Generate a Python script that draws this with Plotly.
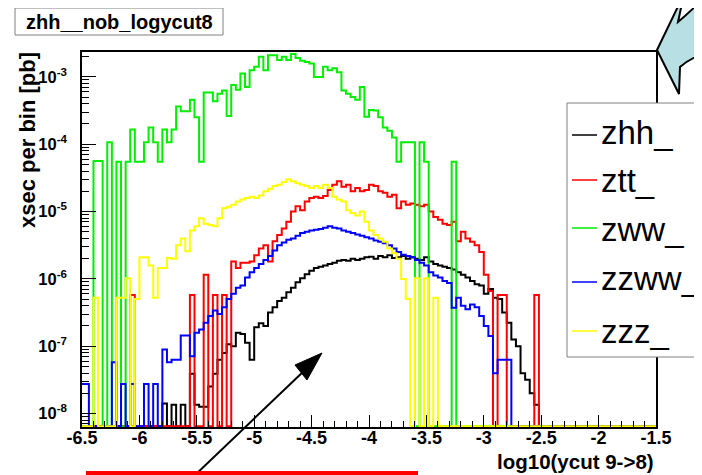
import plotly.graph_objects as go

N = None
# ---------------- data (log10 of xsec per bin [pb]; None = empty bin) ----------------
BIN_WIDTH = 0.04
X_FIRST_EDGE = -6.52
N_BINS = 126

zhh_first_center = -5.78
zhh_log = [-7.85, N, -7.87, N, -7.87, N, -7.41, -7.87, -7.9, -7.9, -7.6, -7.41, -7.2, -7.1,
           -6.97, -7.0, -6.8, -6.82, -6.95, -7.2, -6.72, -6.66, -6.7, -6.5, -6.42, -6.33, -6.28,
           -6.2, -6.13, -6.05, -5.99, -5.93, -5.88, -5.84, -5.82, -5.8, -5.78, -5.76, -5.73, -5.72,
           -5.73, -5.7, -5.72, -5.7, -5.68, -5.67, -5.7, -5.66, -5.68, -5.65, -5.69, -5.68, -5.66,
           -5.7, -5.68, -5.7, -5.72, -5.68, -5.74, -5.78, -5.8, -5.82, -5.84, -5.86, -5.9, -5.94,
           -5.98, -6.03, -6.08, -6.1, -6.22, -6.15, -6.28, -6.3, -6.5, -6.65, -6.9, -7.0, -7.4,
           -7.5, -7.7, -7.87]

ztt_first_center = -6.06
ztt_log = [-6.24, N, N, N, N, N, N, N, N, N, N, N, N, -6.24, N, N, -5.94, N, -6.24, N, -6.24, N,
           -5.74, -5.84, -5.76, -5.76, -5.74, -5.65, -5.55, -5.5, -5.74, -5.44, -5.35, -5.25,
           -5.15, -5.0, -4.92, -4.98, -4.85, -4.8, -4.78, -4.8, -4.77, -4.68, -4.6, -4.55, -4.63,
           -4.6, -4.7, -4.65, -4.7, -4.68, -4.6, -4.62, -4.7, -4.72, -4.78, -4.75, -4.95, -4.85,
           -4.9, -4.88, -4.9, -4.92, -4.9, -5.0, -5.08, -5.12, -5.18, -5.2, -5.15, -5.44, -5.3,
           -5.4, -5.45, -5.5, -5.6, -5.94, -6.18, N, -6.24, -6.24, N, N, N, N, N, N, -6.24]

zww_first_center = -6.38
zww_log = [-4.25, -4.25, N, -3.97, N, -4.26, N, -4.26, -3.78, -4.26, -4.26, -3.97, -3.75, -3.97,
           -4.26, -3.78, -3.97, -3.78, -3.44, -3.51, -3.51, -3.34, -3.6, -4.26, -3.23, -3.23,
           -3.36, -3.25, -3.2, -3.58, -3.12, -3.19, -2.95, -3.15, -2.9, -2.85, -2.7, -2.9, -2.68,
           -2.68, -2.75, -2.7, -2.75, -2.66, -2.72, -2.76, -2.78, -2.8, -3.0, -3.0, -2.85, -2.9,
           -2.87, -2.93, -3.2, -3.25, -3.3, -3.34, -3.15, -3.59, -3.49, -3.5, -3.6, -3.75, -3.8,
           -3.9, -4.26, -3.97, -3.97, -3.97, N, -3.97, -4.26, N, N, N, N, N, -4.26]

zzww_first_center = -6.5
zzww_log = [-7.56, -7.56, N, N, N, N, N, -7.24, N, -7.56, N, -7.56, N, N, -7.56, N, -7.56, N,
            -7.05, -7.24, -7.2, -7.2, -6.84, -6.84, -7.15, -6.8, -6.75, -6.65, -6.55, -6.47,
            -6.52, -6.42, -6.3, -6.22, -6.13, -6.1, -5.98, -5.9, -5.84, -5.78, -5.72, -5.66,
            -5.58, -5.5, -5.46, -5.42, -5.4, -5.36, -5.32, -5.3, -5.28, -5.27, -5.26, -5.24,
            -5.22, -5.24, -5.25, -5.28, -5.3, -5.32, -5.34, -5.36, -5.38, -5.4, -5.43, -5.45,
            -5.47, -5.5, -5.55, -5.6, -5.64, -5.66, -5.68, -5.72, -5.76, -5.8, -5.9, -5.95,
            -5.98, -6.03, -6.06, -6.43, -6.28, -6.4, -6.45, -6.38, -6.42, -6.55, -6.7, -6.85,
            -7.4, -7.2, -7.2, -7.2]

zzz_first_center = -6.38
zzz_log = [-6.28, N, N, N, N, -6.28, -6.28, -5.99, N, -6.3, -5.68, -5.68, -5.8, -6.28, -5.84,
           -5.84, -5.69, -5.7, -5.5, -5.4, -5.59, -5.28, -5.22, -5.1, -5.18, -5.2, -5.22, -5.1,
           -4.95, -4.93, -4.9, -4.85, -4.82, -4.8, -4.78, -4.8, -4.76, -4.7, -4.66, -4.62, -4.6,
           -4.56, -4.52, -4.55, -4.58, -4.6, -4.62, -4.65, -4.62, -4.65, -4.6, -4.65, -4.78,
           -4.82, -4.85, -4.98, -5.02, -5.06, -5.0, -5.15, -5.28, -5.35, -5.4, -5.45, -5.55,
           -5.62, -5.7, -6.0, -6.3, N, -5.99, N, -5.99, N, -6.28]

series_names = ["zhh_", "ztt_", "zww_", "zzww_", "zzz_"]
series_colors = ["#000000", "#ff0000", "#00ee00", "#0000ff", "#ffff00"]
series_first = [zhh_first_center, ztt_first_center, zww_first_center, zzww_first_center, zzz_first_center]
series_logs = [zhh_log, ztt_log, zww_log, zzww_log, zzz_log]

x_tick_vals = [-6.5, -6, -5.5, -5, -4.5, -4, -3.5, -3, -2.5, -2, -1.5]
x_tick_text = ["-6.5", "-6", "-5.5", "-5", "-4.5", "-4", "-3.5", "-3", "-2.5", "-2", "-1.5"]
y_tick_exps = [-8, -7, -6, -5, -4, -3]

X_RANGE = [-6.5, -1.5]
Y_RANGE = [-8.20, -2.63]

# ---------------- geometry (page pixels; page body has an 8px margin) ----------------
OFF = 8
W, H = 702 - OFF, 475 - OFF
PL, PR, PT, PB = 82, 656, 52, 427          # plot frame in page pixels
ML, MT = PL - OFF, PT - OFF
MR, MB = W - (PR - OFF), H - (PB - OFF)


def fx(px):
    return (px - PL) / (PR - PL)


def fy(py):
    return (PB - py) / (PB - PT)


FONT = "Liberation Sans, Arial, Helvetica, sans-serif"
floor_val = 10 ** (Y_RANGE[0] + 0.012)
edges = [X_FIRST_EDGE + BIN_WIDTH * i for i in range(N_BINS + 1)]

fig = go.Figure()
for name, color, first, logs in zip(series_names, series_colors, series_first, series_logs):
    start = round((first - (X_FIRST_EDGE + BIN_WIDTH / 2)) / BIN_WIDTH)
    vals = [floor_val] * N_BINS
    for k, v in enumerate(logs):
        if v is not None:
            vals[start + k] = 10 ** v
    fig.add_trace(go.Scatter(x=edges, y=vals + [vals[-1]], mode="lines", line_shape="hv",
                             line=dict(color=color, width=2), name=name, showlegend=False,
                             hoverinfo="skip"))

minor_y = [m * 10.0 ** e for e in range(-9, -1) for m in range(2, 10)]

fig.update_layout(
    width=W, height=H, margin=dict(l=ML, r=MR, t=MT, b=MB, autoexpand=False),
    paper_bgcolor="white", plot_bgcolor="white", showlegend=False,
    xaxis=dict(range=X_RANGE, tickvals=x_tick_vals, ticktext=x_tick_text, ticks="inside",
               ticklen=12, tickwidth=1, tickcolor="black", showline=True, linecolor="black",
               linewidth=1.5, mirror=True, showgrid=False, zeroline=False, ticklabelstandoff=-6,
               tickfont=dict(family=FONT, size=18, color="black", weight="bold"),
               minor=dict(dtick=0.1, tick0=-6.5, ticks="inside", ticklen=6, tickcolor="black",
                          showgrid=False)),
    yaxis=dict(type="log", range=Y_RANGE, tickvals=[10.0 ** e for e in y_tick_exps],
               ticktext=["10<sup>%d</sup>" % e for e in y_tick_exps], ticks="inside",
               ticklen=14, tickwidth=1, tickcolor="black", showline=True, linecolor="black",
               linewidth=1.5, mirror=True, showgrid=False, zeroline=False, ticklabelstandoff=10,
               tickfont=dict(family=FONT, size=16.5, color="black", weight="bold"),
               minor=dict(tickvals=minor_y, ticks="inside", ticklen=7, tickcolor="black",
                          showgrid=False)),
)

shapes = []
annotations = []

# title box
shapes.append(dict(type="rect", xref="paper", yref="paper", x0=fx(15), x1=fx(223), y0=fy(35), y1=fy(8),
                   line=dict(color="#808080", width=1), fillcolor="white", layer="above"))
annotations.append(dict(xref="paper", yref="paper", x=fx(119), y=fy(21.5), text="zhh__nob_logycut8",
                        showarrow=False, xanchor="center", yanchor="middle",
                        font=dict(family=FONT, size=20, color="black", weight="bold")))

# axis titles
annotations.append(dict(xref="paper", yref="paper", x=fx(27), y=fy(140), text="xsec per bin [pb]",
                        textangle=-90, showarrow=False, xanchor="center", yanchor="middle",
                        font=dict(family=FONT, size=22, color="black", weight="bold")))
annotations.append(dict(xref="paper", yref="paper", x=fx(656), y=fy(461.5), text="log10(ycut 9->8)",
                        showarrow=False, xanchor="right", yanchor="middle",
                        font=dict(family=FONT, size=20.5, color="black", weight="bold")))

# legend box
shapes.append(dict(type="rect", xref="paper", yref="paper", x0=fx(567), x1=fx(712), y0=fy(357), y1=fy(103),
                   line=dict(color="#808080", width=1), fillcolor="white", layer="above"))
leg_line_y = [135, 180, 228, 282, 331]
leg_text_y = [133, 180, 229, 278, 331]
for name, color, ly, ty in zip(series_names, series_colors, leg_line_y, leg_text_y):
    shapes.append(dict(type="line", xref="paper", yref="paper", x0=fx(572), x1=fx(597), y0=fy(ly), y1=fy(ly),
                       line=dict(color=color, width=1.5), layer="above"))
    annotations.append(dict(xref="paper", yref="paper", x=fx(599), y=fy(ty), text=name, showarrow=False,
                            xanchor="left", yanchor="middle",
                            font=dict(family=FONT, size=33, color="black")))

# black pointing arrow
shapes.append(dict(type="line", xref="paper", yref="paper", x0=fx(193), y0=fy(477), x1=fx(305), y1=fy(370),
                   line=dict(color="black", width=2), layer="above"))
head = [(322, 353), (295, 365), (307, 380)]
shapes.append(dict(type="path", xref="paper", yref="paper",
                   path="M %f,%f L %f,%f L %f,%f Z" % (fx(head[0][0]), fy(head[0][1]), fx(head[1][0]),
                                                         fy(head[1][1]), fx(head[2][0]), fy(head[2][1])),
                   fillcolor="black", line=dict(color="black", width=1), layer="above"))

# red bar at the bottom
shapes.append(dict(type="rect", xref="paper", yref="paper", x0=fx(86), x1=fx(418), y0=fy(478), y1=fy(471),
                   fillcolor="#ff0000", line=dict(width=0), layer="above"))

# light-blue callout arrow (top right)
pts = [("M", 657, 50), ("L", 684, -6), ("L", 678, 22), ("Q", 690, 12, 704, -2), ("L", 704, 54),
       ("Q", 690, 58, 680, 67), ("L", 679, 94)]
path = ""
for p in pts:
    if p[0] == "Q":
        path += "Q %f,%f %f,%f " % (fx(p[1]), fy(p[2]), fx(p[3]), fy(p[4]))
    else:
        path += "%s %f,%f " % (p[0], fx(p[1]), fy(p[2]))
path += "Z"
shapes.append(dict(type="path", xref="paper", yref="paper", path=path, fillcolor="#b8dfe3",
                   line=dict(color="black", width=2), layer="above"))

fig.update_layout(shapes=shapes, annotations=annotations)
fig.write_html("out.html")
